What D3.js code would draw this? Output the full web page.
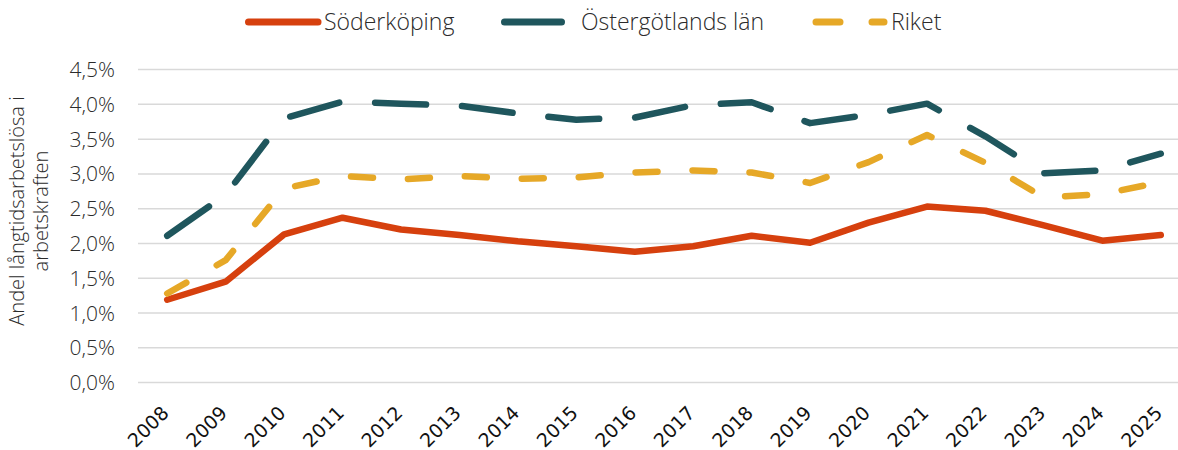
<!DOCTYPE html>
<html>
<head>
<meta charset="utf-8">
<script src="https://cdn.jsdelivr.net/npm/d3@7"></script>
<style>
  body { margin: 0; background: #fff; }
  svg { display: block; }
</style>
</head>
<body>
<div id="viz"></div>
<script>
const WIDTH = 1178;
const HEIGHT = 450;

const years = ["2008", "2009", "2010", "2011", "2012", "2013", "2014", "2015", "2016",
  "2017", "2018", "2019", "2020", "2021", "2022", "2023", "2024", "2025"];

const soderkoping = [1.19, 1.45, 2.13, 2.37, 2.20, 2.12, 2.03, 1.96, 1.88,
  1.96, 2.11, 2.01, 2.30, 2.53, 2.47, 2.26, 2.04, 2.12];
const ostergotland = [2.11, 2.70, 3.80, 4.04, 4.01, 3.98, 3.87, 3.78, 3.81,
  3.99, 4.03, 3.73, 3.85, 4.01, 3.54, 3.01, 3.05, 3.29];
const riket = [1.28, 1.76, 2.79, 2.97, 2.92, 2.97, 2.93, 2.95, 3.02,
  3.05, 3.02, 2.87, 3.17, 3.56, 3.16, 2.66, 2.71, 2.88];

const yTicks = [0, 0.5, 1, 1.5, 2, 2.5, 3, 3.5, 4, 4.5];

const series = [
  { name: "Söderköping", values: soderkoping, color: "#d6400e", dash: null },
  { name: "Östergötlands län", values: ostergotland, color: "#1f565d", dash: "51 36" },
  { name: "Riket", values: riket, color: "#e6a827", dash: "22 35" }
];

const LINE_W = 6.5;
const FONT = "'Open Sans', Lato, sans-serif";
const TEXT_COLOR = "#2b2b2b";

const plot = { left: 138, right: 1190, top: 69.6, bottom: 382.5 };

const svg = d3.select("#viz").append("svg")
  .attr("width", WIDTH)
  .attr("height", HEIGHT);

const x = d3.scalePoint()
  .domain(years)
  .range([plot.left, plot.right])
  .padding(0.5);

const y = d3.scaleLinear()
  .domain([0, 4.5])
  .range([plot.bottom, plot.top]);

// gridlines
svg.append("g")
  .selectAll("line")
  .data(yTicks)
  .join("line")
  .attr("x1", plot.left)
  .attr("x2", WIDTH)
  .attr("y1", d => y(d))
  .attr("y2", d => y(d))
  .attr("stroke", "#d9d9d9")
  .attr("stroke-width", 1.5);

// y tick labels
const fmt = d => d.toFixed(1).replace(".", ",") + "%";
svg.append("g")
  .selectAll("text")
  .data(yTicks)
  .join("text")
  .attr("x", 115)
  .attr("y", d => y(d))
  .attr("dy", "0.36em")
  .attr("text-anchor", "end")
  .attr("font-family", FONT)
  .attr("font-weight", 300)
  .attr("font-size", 21)
  .attr("fill", TEXT_COLOR)
  .text(fmt);

// y axis title
const title = svg.append("text")
  .attr("transform", "translate(24,211) rotate(-90)")
  .attr("text-anchor", "middle")
  .attr("font-family", FONT)
  .attr("font-weight", 300)
  .attr("font-size", 20)
  .attr("fill", TEXT_COLOR);
title.append("tspan").attr("x", 0).attr("y", 0).text("Andel långtidsarbetslösa i");
title.append("tspan").attr("x", 0).attr("y", 24).text("arbetskraften");

// x tick labels
svg.append("g")
  .selectAll("text")
  .data(years)
  .join("text")
  .attr("transform", d => `translate(${x(d) - 2},${plot.bottom + 27}) rotate(-45)`)
  .attr("text-anchor", "end")
  .attr("dy", "0.35em")
  .attr("font-family", "'DejaVu Sans', Verdana, sans-serif")
  .attr("font-size", 19)
  .attr("fill", "#111")
  .text(d => d);

// lines
const line = d3.line()
  .x((d, i) => x(years[i]))
  .y(d => y(d));

series.forEach(s => {
  svg.append("path")
    .datum(s.values)
    .attr("d", line)
    .attr("fill", "none")
    .attr("stroke", s.color)
    .attr("stroke-width", LINE_W)
    .attr("stroke-linecap", "round")
    .attr("stroke-linejoin", "round")
    .attr("stroke-dasharray", s.dash);
});

// legend
const legendItems = [
  { s: series[0], x1: 248.5, x2: 318, tx: 324, dash: null },
  { s: series[1], x1: 504.5, x2: 561.5, tx: 581, dash: null },
  { s: series[2], x1: 816, x2: 884, tx: 891, dash: "24 32" }
];
const legendY = 22;
legendItems.forEach(item => {
  svg.append("line")
    .attr("x1", item.x1)
    .attr("x2", item.x2)
    .attr("y1", legendY)
    .attr("y2", legendY)
    .attr("stroke", item.s.color)
    .attr("stroke-width", LINE_W + 0.5)
    .attr("stroke-linecap", "round")
    .attr("stroke-dasharray", item.dash);
  svg.append("text")
    .attr("x", item.tx)
    .attr("y", legendY)
    .attr("dy", "0.36em")
    .attr("font-family", FONT)
    .attr("font-weight", 300)
    .attr("font-size", 23)
    .attr("fill", TEXT_COLOR)
    .text(item.s.name);
});
</script>
</body>
</html>
